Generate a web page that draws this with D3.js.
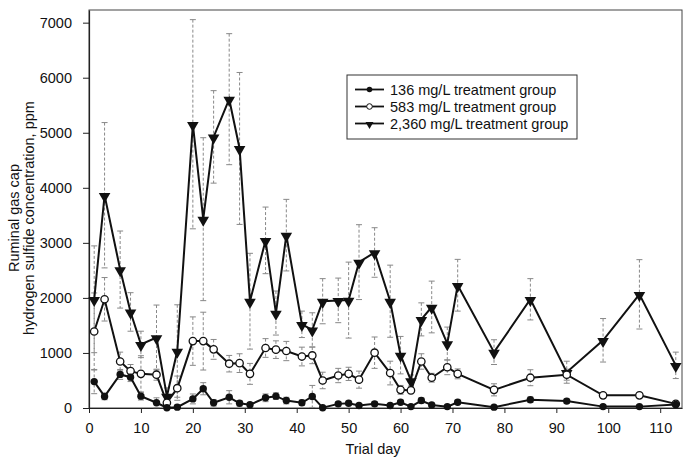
<!DOCTYPE html>
<html>
<head>
<meta charset="utf-8">
<script src="https://cdn.jsdelivr.net/npm/d3@7"></script>
<style>
  body { margin: 0; background: #fff; }
  svg { display: block; font-family: "Liberation Sans", Arial, sans-serif; }
</style>
</head>
<body>
<div id="chart"></div>
<script>
// trial days (shared by all 3 groups)
var days = [1,3,6,8,10,13,15,17,20,22,24,27,29,31,34,36,38,41,43,45,48,50,52,55,58,60,62,64,66,69,71,78,85,92,99,106,113];

// 136 mg/L group
var lowMean = [480,210,610,560,215,95,5,15,165,350,95,195,85,60,185,215,135,95,210,5,75,85,45,75,45,105,25,135,55,25,105,15,150,125,25,25,65];
var lowSE   = [220,60,90,80,70,90,20,40,90,110,60,120,50,40,70,60,60,50,200,20,40,40,30,40,30,40,20,50,30,20,40,20,50,40,20,20,20];

// 583 mg/L group
var midMean = [1390,1975,845,670,620,605,95,360,1215,1215,1065,805,815,620,1090,1060,1035,935,955,500,590,620,515,1005,635,330,320,845,550,740,620,330,550,605,230,230,75];
var midSE   = [700,395,170,120,330,100,60,220,440,525,180,150,170,190,170,160,175,170,150,150,130,120,155,285,215,80,60,140,80,135,90,110,145,100,50,40,30];

// 2,360 mg/L group
var highMean = [1975,3865,2515,1745,1155,1280,215,1035,5155,3430,4925,5610,4715,1940,3045,1725,3140,1520,1420,1940,1955,1960,2650,2825,1940,960,500,1610,1835,1170,2230,1015,1975,650,1230,2065,775];
var highSE   = [970,1320,700,350,240,590,150,840,1900,1480,840,1190,1380,870,605,400,650,240,310,410,405,690,680,450,655,340,100,300,470,300,470,225,375,200,395,630,240];

var xTicks = [0,10,20,30,40,50,60,70,80,90,100,110];
var yTicks = [0,1000,2000,3000,4000,5000,6000,7000];

var seriesNames = ["136 mg/L treatment group", "583 mg/L treatment group", "2,360 mg/L treatment group"];

var W = 684, H = 458;
var plotL = 89, plotR = 682, plotT = 10, plotB = 408;

var svg = d3.select("#chart").append("svg").attr("width", W).attr("height", H);

var x = d3.scaleLinear().domain([0, 114.2]).range([plotL, plotR]);
var y = d3.scaleLinear().domain([0, 7230]).range([plotB, plotT]);

// frame
svg.append("rect")
  .attr("x", plotL).attr("y", plotT)
  .attr("width", plotR - plotL).attr("height", plotB - plotT)
  .attr("fill", "none").attr("stroke", "#444").attr("stroke-width", 1);

// axes
var xAxis = svg.append("g").attr("transform", "translate(0," + plotB + ")")
  .call(d3.axisBottom(x).tickValues(xTicks).tickSize(5).tickSizeOuter(0));
var yAxis = svg.append("g").attr("transform", "translate(" + plotL + ",0)")
  .call(d3.axisLeft(y).tickValues(yTicks).tickSize(6).tickSizeOuter(0).tickFormat(d3.format("d")));

[xAxis, yAxis].forEach(function (a) {
  a.select(".domain").attr("stroke", "#222").attr("stroke-width", 1.2);
  a.selectAll(".tick line").attr("stroke", "#222");
  a.selectAll(".tick text").attr("fill", "#111").style("font-size", "14.5px")
    .style("font-family", "'Liberation Sans', Arial, sans-serif");
});
xAxis.selectAll(".tick text").attr("y", 0).attr("dy", 0).attr("transform", "translate(0,25)");
yAxis.selectAll(".tick text").attr("x", -17);

// axis titles
svg.append("text")
  .attr("x", 373).attr("y", 454)
  .attr("text-anchor", "middle")
  .style("font-size", "14.5px").attr("fill", "#111")
  .text("Trial day");

var yl = svg.append("text")
  .attr("transform", "translate(19,218) rotate(-90)")
  .attr("text-anchor", "middle")
  .style("font-size", "14.5px").attr("fill", "#111");
yl.append("tspan").attr("x", 0).attr("dy", 0).text("Ruminal gas cap");
yl.append("tspan").attr("x", 0).attr("dy", "1.05em").text("hydrogen sulfide concentration, ppm");

var groups = [
  { mean: lowMean, se: lowSE, marker: "filled" },
  { mean: midMean, se: midSE, marker: "open" },
  { mean: highMean, se: highSE, marker: "tri" }
];

// error bars first (behind lines)
var errG = svg.append("g");
groups.forEach(function (g) {
  days.forEach(function (d, i) {
    var cx = x(d), y1 = y(g.mean[i] + g.se[i]), y0 = y(Math.max(0, g.mean[i] - g.se[i]));
    errG.append("line")
      .attr("x1", cx).attr("x2", cx).attr("y1", y1).attr("y2", y0)
      .attr("stroke", "#888").attr("stroke-width", 1)
      .attr("stroke-dasharray", "3,2");
    [y1, y0].forEach(function (yy) {
      errG.append("line")
        .attr("x1", cx - 3).attr("x2", cx + 3).attr("y1", yy).attr("y2", yy)
        .attr("stroke", "#888").attr("stroke-width", 1);
    });
  });
});

var line = d3.line().x(function (d) { return x(d[0]); }).y(function (d) { return y(d[1]); });

function drawMarker(sel, type, cx, cy) {
  if (type === "filled") {
    sel.append("circle").attr("cx", cx).attr("cy", cy).attr("r", 3.7).attr("fill", "#111");
  } else if (type === "open") {
    sel.append("circle").attr("cx", cx).attr("cy", cy).attr("r", 3.7)
      .attr("fill", "#fff").attr("stroke", "#111").attr("stroke-width", 1.3);
  } else {
    sel.append("path")
      .attr("d", d3.symbol().type(d3.symbolTriangle).size(58)())
      .attr("transform", "translate(" + cx + "," + (cy + 1) + ") rotate(180)")
      .attr("fill", "#111");
  }
}

// draw high series first so low ones sit on top
[2, 1, 0].forEach(function (k) {
  var g = groups[k];
  var pts = days.map(function (d, i) { return [d, g.mean[i]]; });
  svg.append("path").datum(pts).attr("d", line)
    .attr("fill", "none").attr("stroke", "#111").attr("stroke-width", 2);
  var mg = svg.append("g");
  pts.forEach(function (p) { drawMarker(mg, g.marker, x(p[0]), y(p[1])); });
});

// legend
var lg = svg.append("g");
lg.append("rect").attr("x", 347).attr("y", 75).attr("width", 230).attr("height", 64)
  .attr("fill", "#fff").attr("stroke", "#333").attr("stroke-width", 1);
seriesNames.forEach(function (name, i) {
  var ly = 89.5 + i * 17;
  lg.append("line").attr("x1", 355).attr("x2", 384).attr("y1", ly).attr("y2", ly)
    .attr("stroke", "#111").attr("stroke-width", 1.8);
  var mk = groups[i].marker;
  if (mk === "filled") {
    lg.append("circle").attr("cx", 369.5).attr("cy", ly).attr("r", 2.8).attr("fill", "#111");
  } else if (mk === "open") {
    lg.append("circle").attr("cx", 369.5).attr("cy", ly).attr("r", 2.8)
      .attr("fill", "#fff").attr("stroke", "#111").attr("stroke-width", 1);
  } else {
    lg.append("path").attr("d", d3.symbol().type(d3.symbolTriangle).size(28)())
      .attr("transform", "translate(369.5," + (ly + 0.8) + ") rotate(180)").attr("fill", "#111");
  }
  lg.append("text").attr("x", 390).attr("y", ly + 5)
    .style("font-size", "14.5px").attr("fill", "#111").text(name);
});
</script>
</body>
</html>
